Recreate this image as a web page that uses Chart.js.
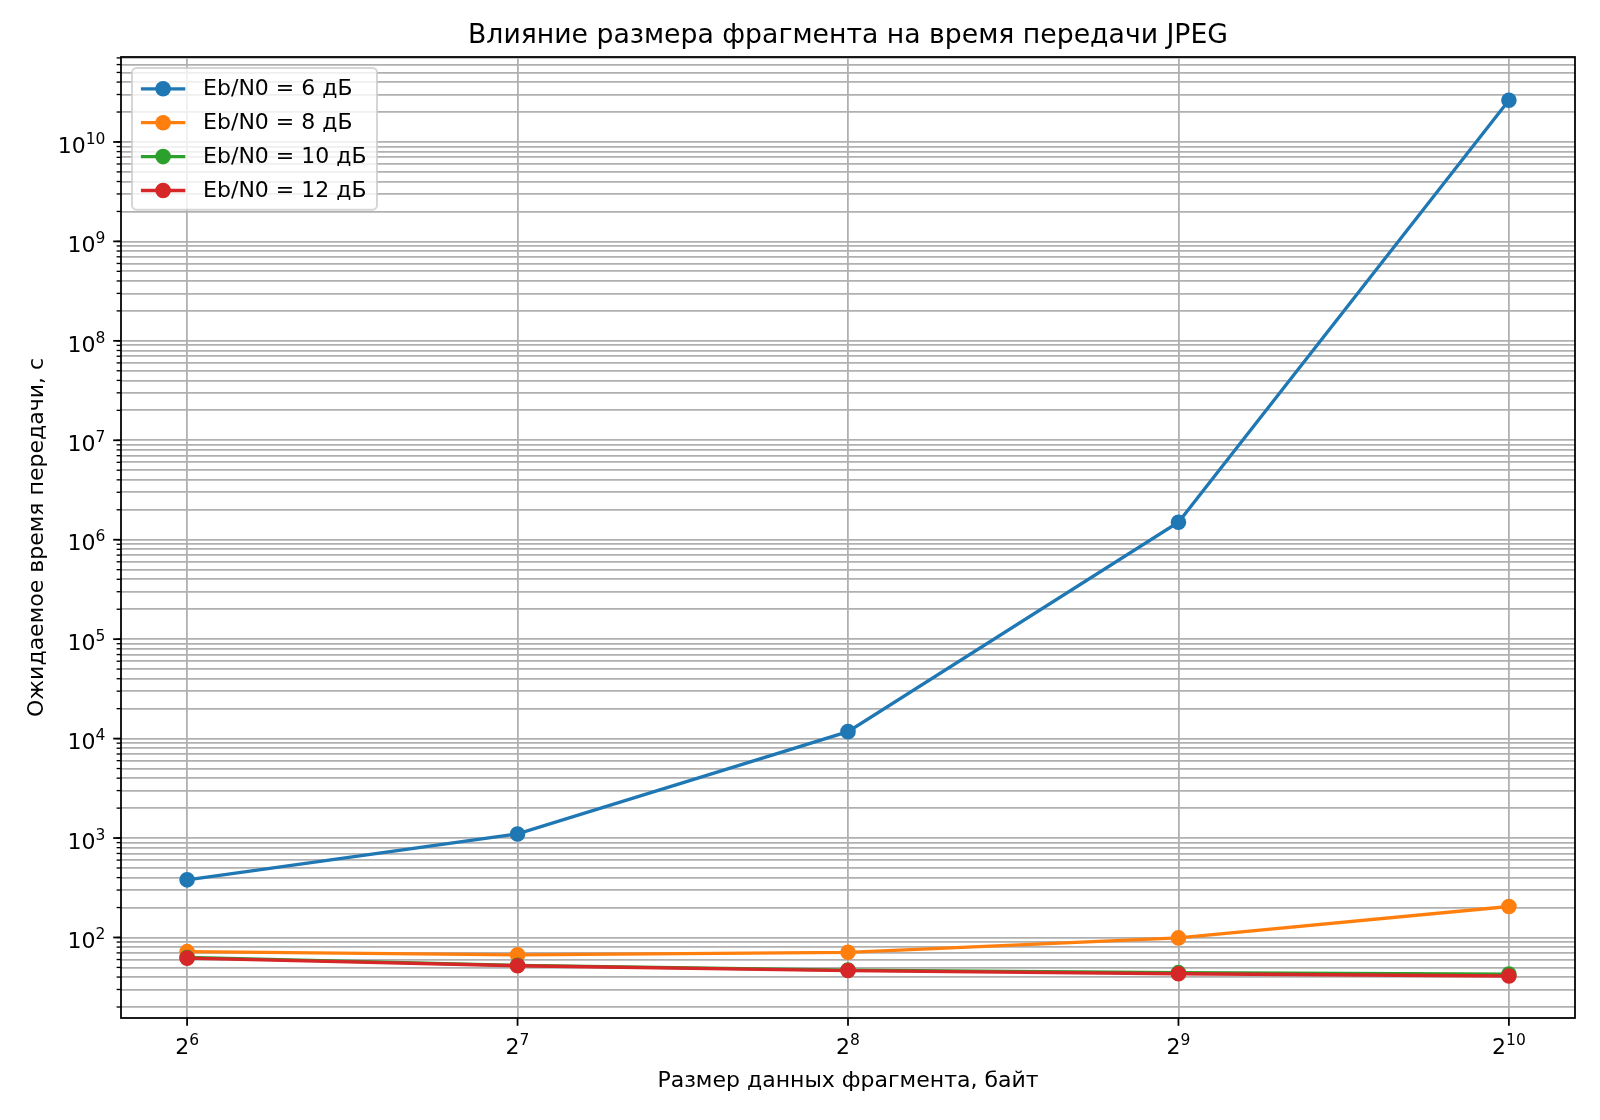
<!DOCTYPE html>
<html>
<head>
<meta charset="utf-8">
<script src="https://cdn.jsdelivr.net/npm/chart.js@4.4.1/dist/chart.umd.min.js"></script>
<style>
    html, body { margin: 0; padding: 0; background: #ffffff; }
    #wrap { width: 1600px; height: 1120px; }
</style>
</head>
<body>
<div id="wrap"><canvas id="chart" width="1600" height="1120"></canvas></div>
<script>
// fragment sizes, bytes (2^6 .. 2^10)
const sizes = [64, 128, 256, 512, 1024];
const sizeExp = ['6', '7', '8', '9', '10'];

// expected transfer time, s
const snr6 = [380, 1100, 11750, 1.5e6, 2.63e10];
const snr8 = [72, 67, 71, 99, 205];
const snr10 = [63, 52.5, 47, 44.3, 42.8];
const snr12 = [62, 52, 46.5, 43.2, 41];

const seriesLabels = ['Eb/N0 = 6 дБ', 'Eb/N0 = 8 дБ', 'Eb/N0 = 10 дБ', 'Eb/N0 = 12 дБ'];
const seriesColors = ['#1f77b4', '#ff7f0e', '#2ca02c', '#d62728'];

// y axis labelled decades
const yDecades = [2, 3, 4, 5, 6, 7, 8, 9, 10];

const titleText = 'Влияние размера фрагмента на время передачи JPEG';
const xTitle = 'Размер данных фрагмента, байт';
const yTitle = 'Ожидаемое время передачи, с';

const FONT = '"DejaVu Sans", sans-serif';
const LW = 1.78;

function toPoints(values) {
    return sizes.map((s, i) => ({ x: s, y: values[i] }));
}

const allSeries = [snr6, snr8, snr10, snr12];

const datasets = allSeries.map((vals, i) => ({
    label: seriesLabels[i],
    data: toPoints(vals),
    borderColor: seriesColors[i],
    backgroundColor: seriesColors[i],
    pointBackgroundColor: seriesColors[i],
    pointBorderColor: seriesColors[i],
    pointRadius: 6.7,
    pointBorderWidth: 2.2,
    pointHoverRadius: 6.7,
    borderWidth: 3.3,
    tension: 0,
    fill: false,
    order: allSeries.length - 1 - i
}));

function drawPower(ctx, base, exp, x, baseline, align) {
    ctx.font = '22px ' + FONT;
    const wb = ctx.measureText(base).width;
    ctx.font = '15.5px ' + FONT;
    const we = ctx.measureText(exp).width;
    let start = x;
    if (align === 'center') start = x - (wb + we) / 2;
    if (align === 'right') start = x - (wb + we);
    ctx.textAlign = 'left';
    ctx.textBaseline = 'alphabetic';
    ctx.font = '22px ' + FONT;
    ctx.fillText(base, start, baseline);
    ctx.font = '15.5px ' + FONT;
    ctx.fillText(exp, start + wb, baseline - 9);
}

const mplDecor = {
    id: 'mplDecor',
    afterDraw(chart) {
        const ctx = chart.ctx;
        const area = chart.chartArea;
        const xs = chart.scales.x;
        const ys = chart.scales.y;

        ctx.save();
        ctx.fillStyle = '#000000';
        ctx.strokeStyle = '#000000';

        // x ticks and labels
        ctx.lineWidth = LW;
        sizes.forEach((v, i) => {
            const px = xs.getPixelForValue(v);
            ctx.beginPath();
            ctx.moveTo(px, area.bottom);
            ctx.lineTo(px, area.bottom + 7.8);
            ctx.stroke();
            drawPower(ctx, '2', sizeExp[i], px, area.bottom + 36, 'center');
        });

        // y minor ticks
        ctx.lineWidth = 1.33;
        ys.ticks.forEach(t => {
            const py = ys.getPixelForValue(t.value);
            if (py < area.top - 0.5 || py > area.bottom + 0.5) return;
            ctx.beginPath();
            ctx.moveTo(area.left, py);
            ctx.lineTo(area.left - 4.4, py);
            ctx.stroke();
        });

        // y major ticks and labels
        ctx.lineWidth = LW;
        yDecades.forEach(d => {
            const py = ys.getPixelForValue(Math.pow(10, d));
            ctx.beginPath();
            ctx.moveTo(area.left, py);
            ctx.lineTo(area.left - 7.8, py);
            ctx.stroke();
            drawPower(ctx, '10', String(d), area.left - 15.6, py + 10.7, 'right');
        });

        // spines
        ctx.lineWidth = LW;
        ctx.strokeRect(area.left, area.top, area.right - area.left, area.bottom - area.top);

        // title and axis titles
        const cx = (area.left + area.right) / 2;
        ctx.textAlign = 'center';
        ctx.textBaseline = 'alphabetic';
        ctx.font = '26.7px ' + FONT;
        ctx.fillText(titleText, cx, 42.7);
        ctx.font = '22px ' + FONT;
        ctx.fillText(xTitle, cx, 1087);
        ctx.save();
        ctx.translate(43, (area.top + area.bottom) / 2);
        ctx.rotate(-Math.PI / 2);
        ctx.fillText(yTitle, 0, 0);
        ctx.restore();

        // legend
        const lx = area.left + 11, ly = area.top + 11;
        const lw = 245, lh = 141.7, r = 4.4;
        ctx.beginPath();
        ctx.moveTo(lx + r, ly);
        ctx.arcTo(lx + lw, ly, lx + lw, ly + lh, r);
        ctx.arcTo(lx + lw, ly + lh, lx, ly + lh, r);
        ctx.arcTo(lx, ly + lh, lx, ly, r);
        ctx.arcTo(lx, ly, lx + lw, ly, r);
        ctx.closePath();
        ctx.fillStyle = 'rgba(255,255,255,0.8)';
        ctx.fill();
        ctx.strokeStyle = 'rgba(204,204,204,0.8)';
        ctx.lineWidth = 2;
        ctx.stroke();

        chart.data.datasets.forEach((ds, i) => {
            const rowY = ly + 20.8 + i * 33.9;
            const x0 = lx + 8.9, x1 = x0 + 44.4;
            ctx.strokeStyle = ds.borderColor;
            ctx.lineWidth = 3.3;
            ctx.beginPath();
            ctx.moveTo(x0, rowY);
            ctx.lineTo(x1, rowY);
            ctx.stroke();
            ctx.fillStyle = ds.borderColor;
            ctx.beginPath();
            ctx.arc((x0 + x1) / 2, rowY, 7.8, 0, Math.PI * 2);
            ctx.fill();
            ctx.fillStyle = '#000000';
            ctx.textAlign = 'left';
            ctx.font = '22px ' + FONT;
            ctx.fillText(ds.label, x1 + 17.8, rowY + 6);
        });

        ctx.restore();
    }
};

new Chart(document.getElementById('chart').getContext('2d'), {
    type: 'line',
    data: { datasets: datasets },
    options: {
        responsive: false,
        animation: false,
        devicePixelRatio: 1,
        layout: {
            padding: { left: 121, right: 25, top: 57, bottom: 102 }
        },
        plugins: {
            legend: { display: false },
            tooltip: { enabled: false },
            title: { display: false }
        },
        scales: {
            x: {
                type: 'logarithmic',
                min: Math.pow(2, 5.8),
                max: Math.pow(2, 10.2),
                afterBuildTicks: (scale) => {
                    scale.ticks = sizes.map(v => ({ value: v }));
                },
                ticks: { display: false },
                border: { display: false },
                grid: { color: '#b0b0b0', lineWidth: LW, drawTicks: false }
            },
            y: {
                type: 'logarithmic',
                min: 15.5,
                max: 7.15e10,
                afterBuildTicks: (scale) => {
                    const t = [];
                    for (let d = 1; d <= 10; d++) {
                        for (let m = 1; m <= 9; m++) {
                            const v = m * Math.pow(10, d);
                            if (v >= scale.min && v <= scale.max) t.push({ value: v });
                        }
                    }
                    scale.ticks = t;
                },
                ticks: { display: false },
                border: { display: false },
                grid: { color: '#b0b0b0', lineWidth: LW, drawTicks: false }
            }
        }
    },
    plugins: [mplDecor]
});
</script>
</body>
</html>
